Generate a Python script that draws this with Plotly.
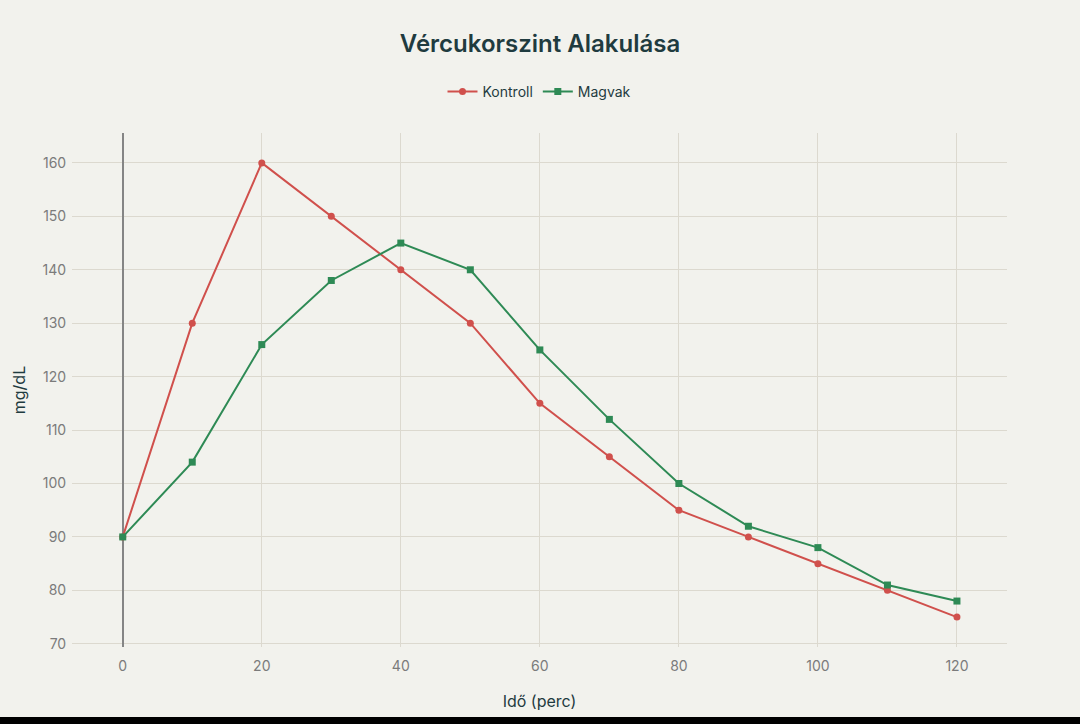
import plotly.graph_objects as go

# Blood sugar over time (minutes)
ido = [0, 10, 20, 30, 40, 50, 60, 70, 80, 90, 100, 110, 120]
kontroll = [90, 130, 160, 150, 140, 130, 115, 105, 95, 90, 85, 80, 75]
magvak = [90, 104, 126, 138, 145, 140, 125, 112, 100, 92, 88, 81, 78]

bg = "#f2f2ed"
grid = "#dcd9cf"
text_dark = "#1f3b3f"
tick_gray = "#7b7b7b"

fig = go.Figure()
fig.add_trace(go.Scatter(
    x=ido, y=kontroll, name="Kontroll", mode="lines+markers",
    line=dict(color="#d0504c", width=2),
    marker=dict(symbol="circle", size=7, color="#d0504c"),
))
fig.add_trace(go.Scatter(
    x=ido, y=magvak, name="Magvak", mode="lines+markers",
    line=dict(color="#2e8a55", width=2),
    marker=dict(symbol="square", size=7, color="#2e8a55"),
))

fig.update_layout(
    width=1080,
    height=724,
    paper_bgcolor=bg,
    plot_bgcolor=bg,
    font=dict(family="Inter, Roboto, sans-serif", color=text_dark),
    margin=dict(l=72, r=73, t=133, b=77),
    title=dict(
        text="Vércukorszint Alakulása",
        x=0.5, xanchor="center", y=0.94, yanchor="middle",
        font=dict(size=24, color=text_dark, weight=600),
    ),
    legend=dict(
        orientation="h", x=0.5, xanchor="center",
        y=1.08, yanchor="middle",
        font=dict(size=14, color=text_dark),
        bgcolor="rgba(0,0,0,0)",
    ),
    showlegend=True,
)

fig.update_xaxes(
    title=dict(text="Idő (perc)", font=dict(size=16, color=text_dark), standoff=23),
    range=[-7.3, 127.2],
    tickvals=[0, 20, 40, 60, 80, 100, 120],
    tickfont=dict(size=14, color=tick_gray),
    showgrid=True, gridcolor=grid, gridwidth=1,
    zeroline=True, zerolinecolor="#858585", zerolinewidth=1.5,
    showline=False,
    ticks="outside", tickcolor=bg, ticklen=6,
)
fig.update_yaxes(
    title=dict(text="mg/dL", font=dict(size=16, color=text_dark), standoff=13),
    range=[69.4, 165.6],
    tickvals=[70, 80, 90, 100, 110, 120, 130, 140, 150, 160],
    tickfont=dict(size=14, color=tick_gray),
    showgrid=True, gridcolor=grid, gridwidth=1,
    zeroline=False, showline=False,
    ticks="outside", tickcolor=bg, ticklen=2,
)

# dark strip along the bottom edge of the screenshot
fig.add_shape(
    type="rect", xref="paper", yref="paper",
    x0=-0.2, x1=1.2, y0=-0.3, y1=(647 - 717) / 514,
    fillcolor="#000000", line=dict(width=0), layer="above",
)

# drop the default page margin so the figure fills the window
fig.write_html(
    "out.html",
    config={"displayModeBar": False},
    post_script="document.body.style.margin='0';",
)
